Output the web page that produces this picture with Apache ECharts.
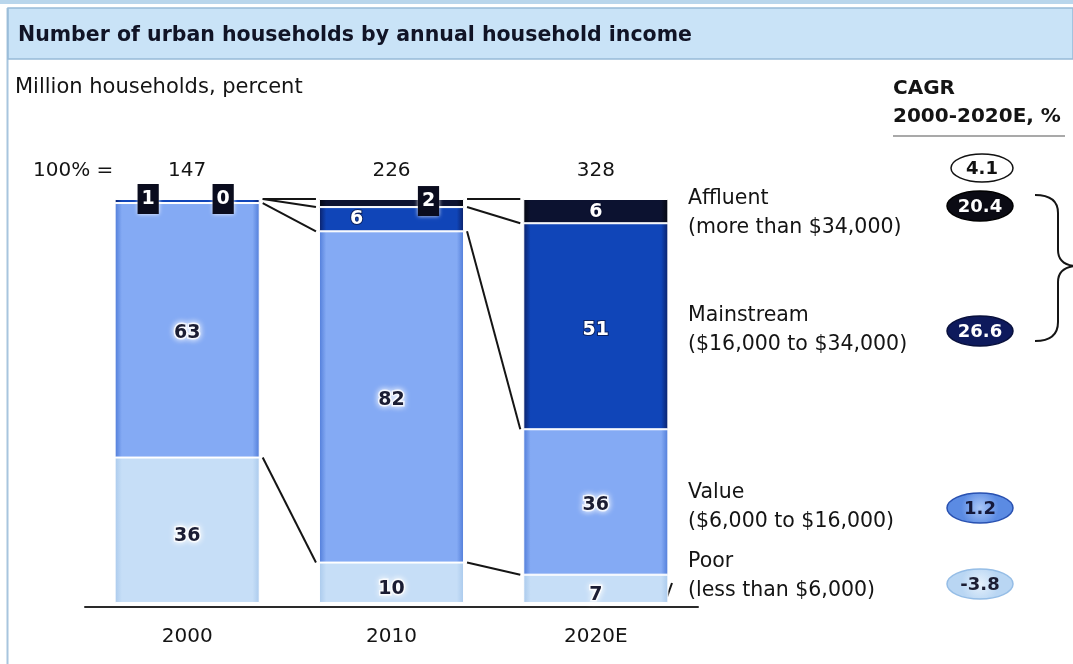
<!DOCTYPE html>
<html>
<head>
<meta charset="utf-8">
<script src="https://cdn.jsdelivr.net/npm/echarts@6/dist/echarts.min.js"></script>
<style>
  html, body { margin: 0; padding: 0; background: #ffffff; }
  #chart { width: 1073px; height: 664px; }
</style>
</head>
<body>
<div id="chart"></div>
<script>
// Urban households by income bracket, percent of total per year
const years = ['2000', '2010', '2020E'];
const totals = [147, 226, 328];          // million households (100% =)
const poor = [36, 10, 7];
const valueSeg = [63, 82, 36];
const mainstream = [1, 6, 51];
const affluent = [0, 2, 6];

// Right-hand legend text and CAGR 2000-2020E, %
const segmentNames = ['Affluent', 'Mainstream', 'Value', 'Poor'];
const segmentRanges = ['(more than $34,000)', '($16,000 to $34,000)', '($6,000 to $16,000)', '(less than $6,000)'];
const cagrTotal = '4.1';
const cagrBySegment = ['20.4', '26.6', '1.2', '-3.8'];

const FONT = '"DejaVu Sans", "Liberation Sans", sans-serif';
const BAR_SHARE = 0.71;
const INK = '#141414';

// Segment boundaries per year, top to bottom: 100%, affluent bottom, mainstream bottom, poor top
const bounds = years.map((_, i) => [
  poor[i] + valueSeg[i] + mainstream[i] + affluent[i],
  poor[i] + valueSeg[i] + mainstream[i],
  poor[i] + valueSeg[i],
  poor[i]
]);
const connectors = [];
for (let i = 0; i < years.length - 1; i++) {
  for (let k = 0; k < 4; k++) connectors.push([i, bounds[i][k], bounds[i + 1][k]]);
}

function edgeFill(edge, mid) {
  return new echarts.graphic.LinearGradient(0, 0, 1, 0, [
    { offset: 0, color: edge }, { offset: 0.05, color: mid },
    { offset: 0.95, color: mid }, { offset: 1, color: edge }
  ]);
}

const darkLabel = {
  show: true, position: 'inside', color: '#1b1d33', fontSize: 19, fontWeight: 'bold',
  fontFamily: FONT, textBorderColor: 'rgba(255,255,255,0.8)', textBorderWidth: 3,
  textShadowColor: '#ffffff', textShadowBlur: 6
};
const lightLabel = {
  show: true, position: 'inside', color: '#ffffff', fontSize: 19, fontWeight: 'bold',
  fontFamily: FONT, textBorderColor: 'rgba(5,10,40,0.6)', textBorderWidth: 2
};
const boxLabel = Object.assign({}, lightLabel, {
  backgroundColor: '#0a0c1e', padding: [6, 4, 5, 4], textBorderWidth: 0,
  shadowColor: 'rgba(255,255,255,0.9)', shadowBlur: 4
});

function barSeries(name, data, fill, label, perItem) {
  return {
    name, type: 'bar', stack: 'share', barWidth: (BAR_SHARE * 100) + '%',
    data: data.map((v, i) => perItem && perItem[i] ? { value: v, label: perItem[i] } : v),
    itemStyle: { color: fill, borderColor: '#ffffff', borderWidth: 1 },
    label: label, emphasis: { disabled: true }, z: 3
  };
}

function renderConnector(params, api) {
  const i = api.value(0);
  const p1 = api.coord([i, api.value(1)]);
  const p2 = api.coord([i + 1, api.value(2)]);
  const half = api.size([1, 0])[0] * BAR_SHARE / 2;
  return {
    type: 'line',
    shape: { x1: p1[0] + half + 3, y1: p1[1], x2: p2[0] - half - 3, y2: p2[1] },
    style: { stroke: '#151515', lineWidth: 2 }
  };
}

// Legend column and CAGR ovals on the right
const labelX = 688;
const legendRows = [199, 316, 493, 562];
const ovalX = 980;
const ovalY = [206, 331, 508, 584];
const ovalStyles = [
  { fill: '#0b0b14', stroke: '#000000', text: '#ffffff' },
  { fill: '#0e1a5c', stroke: '#08103c', text: '#ffffff' },
  { fill: new echarts.graphic.RadialGradient(0.5, 0.5, 0.6, [{ offset: 0, color: '#a9c6f7' }, { offset: 1, color: '#5b8be3' }]), stroke: '#2850b0', text: '#14183a' },
  { fill: new echarts.graphic.RadialGradient(0.5, 0.5, 0.6, [{ offset: 0, color: '#e6f1fc' }, { offset: 1, color: '#b9d6f3' }]), stroke: '#95bde6', text: '#1b1d33' }
];

const braceStyle = { stroke: '#151515', lineWidth: 2, fill: null };

const graphics = [
  // frame and title band
  { type: 'rect', shape: { x: 0, y: 0, width: 1073, height: 4 }, style: { fill: '#b9d6ec' }, silent: true },
  { type: 'line', shape: { x1: 7.5, y1: 8, x2: 7.5, y2: 664 }, style: { stroke: '#a8c5de', lineWidth: 2 }, silent: true },
  { type: 'rect', shape: { x: 8, y: 8, width: 1065, height: 51 }, style: { fill: '#c9e3f7', stroke: '#97bad8', lineWidth: 1.5 }, silent: true },
  { type: 'text', x: 18, y: 36, style: { text: 'Number of urban households by annual household income', font: 'bold 20.5px ' + FONT, fill: '#111426', verticalAlign: 'middle' } },
  { type: 'text', x: 15, y: 88, style: { text: 'Million households, percent', font: '21px ' + FONT, fill: INK, verticalAlign: 'middle' } },
  { type: 'text', x: 893, y: 89, style: { text: 'CAGR', font: 'bold 20px ' + FONT, fill: INK, verticalAlign: 'middle' } },
  { type: 'text', x: 893, y: 117, style: { text: '2000-2020E, %', font: 'bold 20px ' + FONT, fill: INK, verticalAlign: 'middle' } },
  { type: 'line', shape: { x1: 893, y1: 136, x2: 1065, y2: 136 }, style: { stroke: '#8c8c8c', lineWidth: 1.5 } },
  { type: 'text', x: 33, y: 171, style: { text: '100% =', font: '20px ' + FONT, fill: INK, verticalAlign: 'middle' } },
  // total CAGR oval
  { type: 'ellipse', shape: { cx: ovalX + 2, cy: 168, rx: 31, ry: 14 }, style: { fill: '#ffffff', stroke: '#111111', lineWidth: 1.5 } },
  { type: 'text', x: ovalX + 2, y: 169, style: { text: cagrTotal, font: 'bold 18px ' + FONT, fill: '#111111', align: 'center', verticalAlign: 'middle' } },
  // brace grouping affluent and mainstream
  { type: 'bezierCurve', shape: { x1: 1035, y1: 195, cpx1: 1058, cpy1: 195, x2: 1058, y2: 213 }, style: braceStyle },
  { type: 'line', shape: { x1: 1058, y1: 213, x2: 1058, y2: 250 }, style: braceStyle },
  { type: 'bezierCurve', shape: { x1: 1058, y1: 250, cpx1: 1058, cpy1: 264, x2: 1074, y2: 266 }, style: braceStyle },
  { type: 'bezierCurve', shape: { x1: 1074, y1: 266, cpx1: 1058, cpy1: 268, x2: 1058, y2: 282 }, style: braceStyle },
  { type: 'line', shape: { x1: 1058, y1: 282, x2: 1058, y2: 322 }, style: braceStyle },
  { type: 'bezierCurve', shape: { x1: 1058, y1: 322, cpx1: 1058, cpy1: 341, x2: 1035, y2: 341 }, style: braceStyle },
  // leader tick for the thin poor segment
  { type: 'line', shape: { x1: 667, y1: 597, x2: 672, y2: 583 }, style: { stroke: '#151515', lineWidth: 2 } }
];

segmentNames.forEach((name, k) => {
  graphics.push({ type: 'text', x: labelX, y: legendRows[k], style: { text: name, font: '20.5px ' + FONT, fill: INK, verticalAlign: 'middle' } });
  graphics.push({ type: 'text', x: labelX, y: legendRows[k] + 29, style: { text: segmentRanges[k], font: '20.5px ' + FONT, fill: INK, verticalAlign: 'middle' } });
  const s = ovalStyles[k];
  graphics.push({ type: 'ellipse', shape: { cx: ovalX, cy: ovalY[k], rx: 33, ry: 15 }, style: { fill: s.fill, stroke: s.stroke, lineWidth: 1.5 } });
  graphics.push({ type: 'text', x: ovalX, y: ovalY[k] + 1, style: { text: cagrBySegment[k], font: 'bold 18px ' + FONT, fill: s.text, align: 'center', verticalAlign: 'middle' } });
});

const chart = echarts.init(document.getElementById('chart'), null, { renderer: 'canvas' });
chart.setOption({
  animation: false,
  backgroundColor: '#ffffff',
  grid: { left: 85, right: 375, top: 199, bottom: 57 },
  xAxis: {
    type: 'category', data: years,
    axisLine: { show: true, onZero: false, lineStyle: { color: '#2a2a2a', width: 2 } },
    axisTick: { show: false },
    axisLabel: { color: INK, fontSize: 20, fontFamily: FONT, margin: 20 }
  },
  yAxis: { type: 'value', min: -1, max: 100, show: false, splitLine: { show: false } },
  series: [
    barSeries('Poor', poor, edgeFill('#a9c9ec', '#c6def7'), Object.assign({}, darkLabel, { offset: [0, 6] })),
    barSeries('Value', valueSeg, edgeFill('#4f7bd8', '#84aaf4'), Object.assign({}, darkLabel, { offset: [0, 3] })),
    barSeries('Mainstream', mainstream, edgeFill('#0a1f66', '#1045b8'), lightLabel, [
      Object.assign({}, boxLabel, { offset: [-39, -2] }),
      { offset: [-35, 0] },
      { offset: [0, 4] }
    ]),
    barSeries('Affluent', affluent, edgeFill('#04060f', '#0c1230'), lightLabel, [
      Object.assign({}, boxLabel, { offset: [36, 0] }),
      Object.assign({}, boxLabel, { offset: [37, -2] }),
      { offset: [0, 1] }
    ]),
    {
      name: 'Total', type: 'scatter', symbolSize: 0, silent: true,
      itemStyle: { opacity: 1 },
      data: years.map((_, i) => [i, 100]),
      label: {
        show: true, position: 'inside', offset: [0, -28],
        formatter: p => String(totals[p.dataIndex]),
        color: INK, opacity: 1, fontSize: 20, fontFamily: FONT
      }
    },
    {
      name: 'Shift', type: 'custom', silent: true, renderItem: renderConnector,
      encode: { x: 0, y: 1 }, data: connectors, z: 2
    }
  ],
  graphic: graphics
});
</script>
</body>
</html>
